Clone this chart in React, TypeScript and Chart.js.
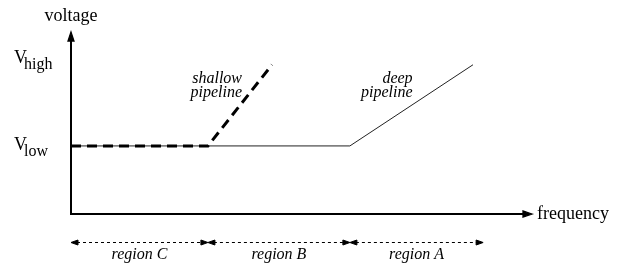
import React, { useEffect, useRef } from "react";
import { Chart, registerables } from "chart.js";

Chart.register(...registerables);

// ---- data (scale units: x 0..100 frequency, y 0..100 voltage) ----
const vLow = 37.4;
const vHigh = 82;
const shallowX = [0, 29.7, 43.6];
const shallowY = [vLow, vLow, vHigh];
const deepX = [0, 60.5, 87.2];
const deepY = [vLow, vLow, vHigh];

const tickValues = [37.4, 85.4];
const tickBase = ["V", "V"];
const tickSubs = ["low", "high"];

const regionEdges = [0, 29.7, 60.5, 89.4];
const regionLabels = ["region C", "region B", "region A"];

const annotationLines = [
  ["shallow", "pipeline"],
  ["deep", "pipeline"],
];
const annotationX = [37.1, 74.1];
const annotationY = [72];

const xAxisTitle = "frequency";
const yAxisTitle = "voltage";

const SERIF = '"Liberation Serif", "DejaVu Serif", serif';

function tri(ctx: CanvasRenderingContext2D, tipX: number, tipY: number, dir: "l" | "r" | "u", len: number, half: number) {
  ctx.beginPath();
  if (dir === "r") {
    ctx.moveTo(tipX, tipY);
    ctx.lineTo(tipX - len, tipY - half);
    ctx.lineTo(tipX - len, tipY + half);
  } else if (dir === "l") {
    ctx.moveTo(tipX, tipY);
    ctx.lineTo(tipX + len, tipY - half);
    ctx.lineTo(tipX + len, tipY + half);
  } else {
    ctx.moveTo(tipX, tipY);
    ctx.lineTo(tipX - half, tipY + len);
    ctx.lineTo(tipX + half, tipY + len);
  }
  ctx.closePath();
}

const decorPlugin = {
  id: "decor",
  afterDatasetsDraw(chart: any) {
    const ctx: CanvasRenderingContext2D = chart.ctx;
    const ca = chart.chartArea;
    const xs = chart.scales.x;
    const ys = chart.scales.y;
    ctx.save();

    // axes
    ctx.strokeStyle = "#000";
    ctx.lineWidth = 2;
    ctx.setLineDash([]);
    ctx.beginPath();
    ctx.moveTo(ca.left, ca.top + 6);
    ctx.lineTo(ca.left, ca.bottom);
    ctx.lineTo(ca.right - 6, ca.bottom);
    ctx.stroke();
    ctx.lineWidth = 1.3;
    ctx.fillStyle = "#000";
    tri(ctx, ca.left, ca.top, "u", 9, 3);
    ctx.fill();
    ctx.stroke();
    tri(ctx, ca.right, ca.bottom, "r", 9, 3);
    ctx.fill();
    ctx.stroke();

    // axis titles
    ctx.fillStyle = "#000";
    ctx.font = `18px ${SERIF}`;
    ctx.textAlign = "center";
    ctx.textBaseline = "alphabetic";
    ctx.fillText(yAxisTitle, ca.left, ca.top - 11);
    ctx.textAlign = "left";
    ctx.fillText(xAxisTitle, ca.right + 5, ca.bottom + 5);

    // y ticks V_low / V_high
    for (let i = 0; i < tickValues.length; i++) {
      const py = ys.getPixelForValue(tickValues[i]);
      ctx.font = `18px ${SERIF}`;
      ctx.textAlign = "left";
      const bx = 14;
      ctx.fillText(tickBase[i], bx, py + 4.5);
      const w = ctx.measureText(tickBase[i]).width;
      ctx.font = `16px ${SERIF}`;
      ctx.fillText(tickSubs[i], bx + w - 3, py + 10);
    }

    // annotations
    ctx.font = `italic 16px ${SERIF}`;
    ctx.textAlign = "right";
    for (let i = 0; i < annotationLines.length; i++) {
      const px = xs.getPixelForValue(annotationX[i]);
      const py = ys.getPixelForValue(annotationY[0]);
      annotationLines[i].forEach((t, j) => ctx.fillText(t, px, py + j * 14));
    }

    // region arrows
    const ry = ca.bottom + 28;
    ctx.lineWidth = 1;
    for (let i = 0; i < regionLabels.length; i++) {
      const a = xs.getPixelForValue(regionEdges[i]);
      const b = xs.getPixelForValue(regionEdges[i + 1]);
      ctx.strokeStyle = "#000";
      ctx.setLineDash([3, 3]);
      ctx.beginPath();
      ctx.moveTo(a + 6, ry + 0.5);
      ctx.lineTo(b - 6, ry + 0.5);
      ctx.stroke();
      ctx.setLineDash([]);
      ctx.fillStyle = "#000";
      tri(ctx, a, ry + 0.5, "l", 7, 2.5);
      ctx.fill();
      ctx.stroke();
      tri(ctx, b, ry + 0.5, "r", 7, 2.5);
      ctx.fill();
      ctx.stroke();
      ctx.fillStyle = "#000";
      ctx.font = `italic 16px ${SERIF}`;
      ctx.textAlign = "center";
      ctx.fillText(regionLabels[i], (a + b) / 2, ry + 17);
    }

    ctx.restore();
  },
};

export default function App() {
  const ref = useRef<HTMLCanvasElement | null>(null);
  useEffect(() => {
    if (!ref.current) return;
    const chart = new Chart(ref.current, {
      type: "line",
      data: {
        datasets: [
          {
            label: "shallow pipeline",
            data: shallowX.map((x, i) => ({ x, y: shallowY[i] })),
            borderColor: "#000",
            borderWidth: 3,
            borderDash: [10, 6],
            pointRadius: 0,
            tension: 0,
            fill: false,
            clip: false as any,
          },
          {
            label: "deep pipeline",
            data: deepX.map((x, i) => ({ x, y: deepY[i] })),
            borderColor: "#222",
            borderWidth: 1,
            pointRadius: 0,
            tension: 0,
            fill: false,
            clip: false as any,
          },
        ],
      },
      options: {
        animation: false,
        responsive: false,
        events: [],
        layout: { padding: { left: 71, right: 89, top: 32, bottom: 51 } },
        plugins: { legend: { display: false }, tooltip: { enabled: false } },
        scales: {
          x: { type: "linear", min: 0, max: 100, display: false },
          y: { type: "linear", min: 0, max: 100, display: false },
        },
      },
      plugins: [decorPlugin],
    });
    return () => chart.destroy();
  }, []);
  return (
    <div style={{ position: "fixed", left: 0, top: 0, width: 621, height: 265, background: "#fff" }}>
      <canvas ref={ref} width={621} height={265} style={{ display: "block" }} />
    </div>
  );
}
